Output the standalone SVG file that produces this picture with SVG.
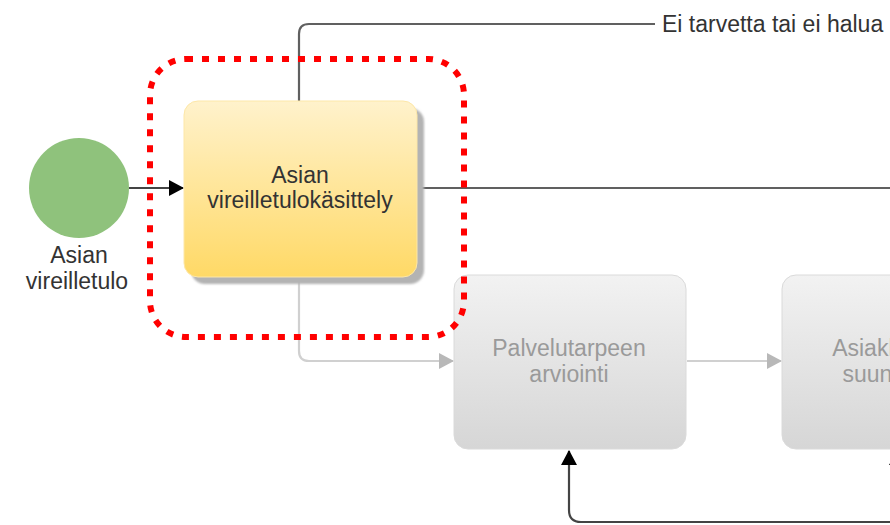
<svg xmlns="http://www.w3.org/2000/svg" width="890" height="525" viewBox="0 0 890 525">
  <defs>
    <linearGradient id="gradYellow" x1="0" y1="0" x2="0" y2="1">
      <stop offset="0" stop-color="#fff2cc"/>
      <stop offset="1" stop-color="#ffd966"/>
    </linearGradient>
    <linearGradient id="gradGray" x1="0" y1="0" x2="0" y2="1">
      <stop offset="0" stop-color="#f2f2f2"/>
      <stop offset="1" stop-color="#d6d6d6"/>
    </linearGradient>
    <filter id="soft" x="-10%" y="-10%" width="120%" height="120%">
      <feGaussianBlur stdDeviation="1.2"/>
    </filter>
    <marker id="arrowDark" markerWidth="15" markerHeight="16" refX="14" refY="8" orient="auto" markerUnits="userSpaceOnUse" viewBox="0 0 15 16">
      <path d="M0,0 L15,8 L0,16 Z" fill="#000"/>
    </marker>
    <marker id="arrowLight" markerWidth="15" markerHeight="16" refX="14" refY="8" orient="auto" markerUnits="userSpaceOnUse" viewBox="0 0 15 16">
      <path d="M0,0 L15,8 L0,16 Z" fill="#b8b8b8"/>
    </marker>
  </defs>
  <style>
    text { font-family: "Liberation Sans", Arial, sans-serif; font-size: 23px; text-anchor: middle; }
    .dark { fill: #333; }
    .muted { fill: #9a9a9a; }
    .edge { fill: none; stroke: #606060; stroke-width: 2.2; }
    .edge-strong { fill: none; stroke: #444; stroke-width: 2.2; }
    .edge-light { fill: none; stroke: #d0d0d0; stroke-width: 2.2; }
    .task-gray { fill: url(#gradGray); stroke: #dadada; stroke-width: 1; }
  </style>

  <rect width="890" height="525" fill="#fff"/>

  <!-- connectors -->
  <g id="connectors">
    <path class="edge" d="M299,101 V34 Q299,24 309,24 H655"/>
    <path class="edge" d="M417,188 H890"/>
    <path class="edge-strong" d="M129,188 H183" marker-end="url(#arrowDark)"/>
    <path class="edge-light" d="M299,277 V351 Q299,361 309,361 H453" marker-end="url(#arrowLight)"/>
    <path class="edge-light" d="M687,361 H781" marker-end="url(#arrowLight)"/>
    <path class="edge-strong" d="M890,522 H581 Q569,522 569,510 V451" marker-end="url(#arrowDark)"/>
    <path class="edge-strong" d="M897,525 V451" marker-end="url(#arrowDark)"/>
  </g>

  <g id="label-no-need">
    <text class="dark" x="662" y="32" style="text-anchor:start">Ei tarvetta tai ei halua</text>
  </g>

  <!-- start event -->
  <g id="start-event">
    <circle cx="79" cy="188" r="50" fill="#8fc27c"/>
    <text class="dark" x="79" y="263">Asian</text>
    <text class="dark" x="77" y="289">vireilletulo</text>
  </g>

  <!-- highlighted task -->
  <g id="task-intake">
    <rect x="191" y="108" width="233" height="176" rx="14" fill="#b3b3b3" filter="url(#soft)"/>
    <rect x="184" y="101" width="233" height="176" rx="14" fill="url(#gradYellow)" stroke="#fde7a8" stroke-width="1"/>
    <text class="dark" x="300" y="183">Asian</text>
    <text class="dark" x="300" y="208">vireilletulokäsittely</text>
  </g>

  <g id="task-assessment">
    <rect class="task-gray" x="454" y="275" width="232" height="174" rx="14"/>
    <text class="muted" x="569" y="356">Palvelutarpeen</text>
    <text class="muted" x="569" y="382">arviointi</text>
  </g>

  <g id="task-planning">
    <rect class="task-gray" x="782" y="275" width="232" height="174" rx="14"/>
    <text class="muted" x="898" y="356">Asiakkuuden</text>
    <text class="muted" x="898" y="382">suunnittelu</text>
  </g>

  <!-- focus frame -->
  <g id="focus-frame">
    <rect x="150" y="59" width="314" height="278" rx="36" fill="none" stroke="#ff0000" stroke-width="6" stroke-dasharray="7 9"/>
  </g>
</svg>
